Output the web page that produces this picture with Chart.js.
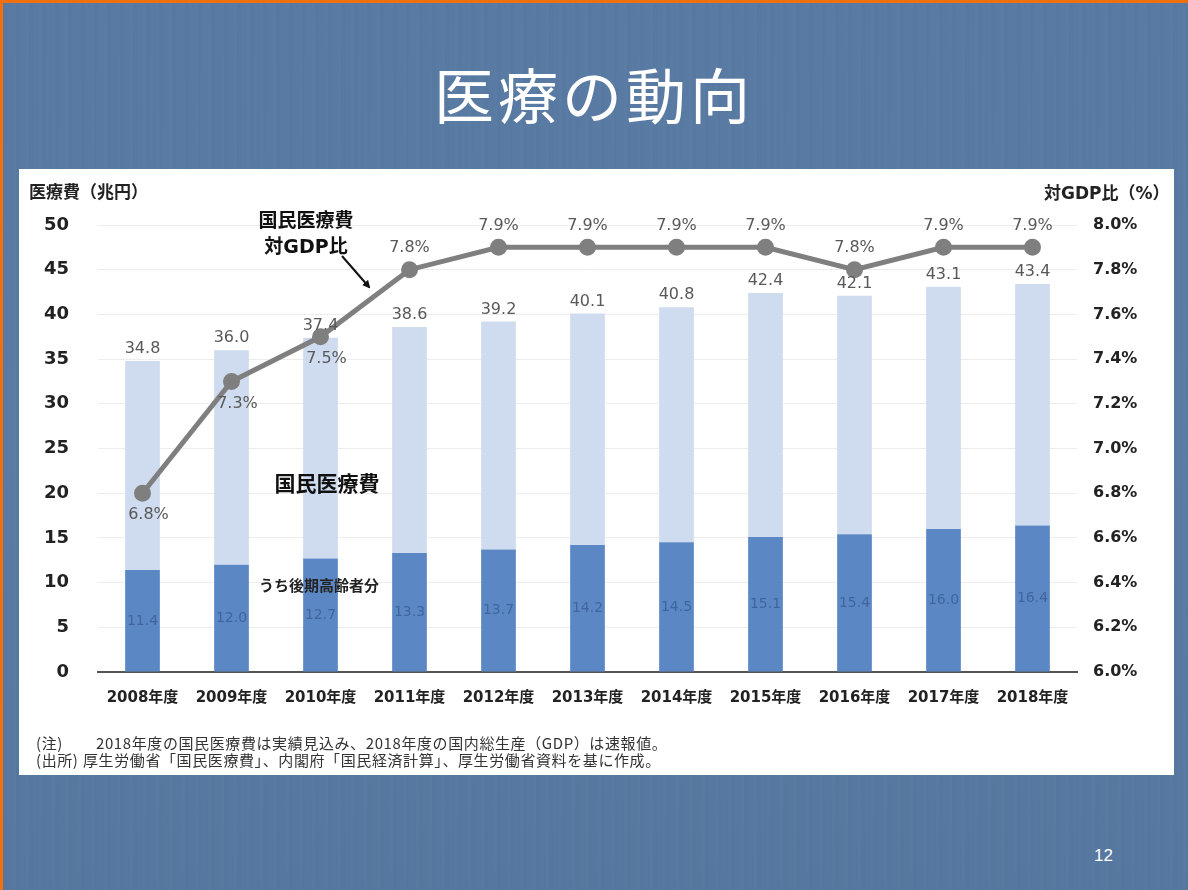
<!DOCTYPE html>
<html lang="ja">
<head>
<meta charset="utf-8">
<title>医療の動向</title>
<script src="https://cdn.jsdelivr.net/npm/chart.js@4.4.1/dist/chart.umd.min.js"></script>
<style>
    html, body { margin: 0; padding: 0; }
    body {
        width: 1188px; height: 890px; position: relative; overflow: hidden;
        font-family: 'DejaVu Sans', 'Noto Sans CJK JP', sans-serif;
        background:
            repeating-linear-gradient(90deg, rgba(255,255,255,0.01) 0 3px, rgba(0,0,0,0.01) 3px 7px, rgba(255,255,255,0) 7px 13px),
            linear-gradient(180deg, #587aa3 0%, #5a7ba3 50%, #56779f 100%);
    }
    #frame {
        position: absolute; left: 0; top: 0; width: 1188px; height: 890px; box-sizing: border-box;
        border-top: 3px solid #f07010; border-left: 3px solid #f07010; pointer-events: none;
    }
    #title {
        position: absolute; left: 0; width: 1188px; top: 57px; text-align: center;
        font-family: 'Noto Sans CJK JP', sans-serif; font-size: 60px; color: #fff;
        line-height: 72px; letter-spacing: 4px;
    }
    #panel {
        position: absolute; left: 19px; top: 169px; width: 1155px; height: 606px; background: #fff;
    }
    #panel canvas { position: absolute; left: 0; top: 0; }
    .note { position: absolute; font-weight: bold; color: #111; white-space: nowrap;
        font-family: 'DejaVu Sans', 'Noto Sans CJK JP', sans-serif; transform: translate(-50%, -50%); }
    .axis-title { position: absolute; font-weight: bold; color: #222; font-size: 17px; white-space: nowrap;
        font-family: 'DejaVu Sans', 'Noto Sans CJK JP', sans-serif; }
    #foot { position: absolute; left: 17px; top: 565px; font-size: 15px; line-height: 17px; color: #333;
        font-family: 'Noto Sans CJK JP', sans-serif; white-space: nowrap; letter-spacing: 0.6px; }
    #foot span.k { display: inline-block; width: 60px; }
    #foot span.k2 { display: inline-block; width: 47px; }
    #page { position: absolute; left: 1094px; top: 846px; color: #fff; font-size: 17px;
        font-family: 'Liberation Sans', sans-serif; }
    svg { position: absolute; left: 0; top: 0; pointer-events: none; }
</style>
</head>
<body>
<div id="title">医療の動向</div>

<div id="panel">
    <canvas id="medChart"></canvas>
    <div class="axis-title" style="left:10px; top:9px;">医療費（兆円）</div>
    <div class="axis-title" style="left:1025px; top:10px;">対GDP比（%）</div>
    <div class="note" style="left:287px; top:64px; font-size:19px; line-height:26px; text-align:center;">国民医療費<br>対GDP比</div>
    <div class="note" style="left:308px; top:313px; font-size:21px;">国民医療費</div>
    <div class="note" style="left:300px; top:415px; font-size:15px; color:#222;">うち後期高齢者分</div>
    <svg width="1155" height="606">
        <defs>
            <marker id="head" markerWidth="8" markerHeight="8" refX="6" refY="4" orient="auto" markerUnits="userSpaceOnUse">
                <path d="M0,0 L8,4 L0,8 z" fill="#111"/>
            </marker>
        </defs>
        <line x1="323" y1="87" x2="350" y2="118" stroke="#111" stroke-width="2" marker-end="url(#head)"/>
    </svg>
    <div id="foot">
        <div><span class="k">(注)</span>2018年度の国民医療費は実績見込み、2018年度の国内総生産（GDP）は速報値。</div>
        <div><span class="k2">(出所)</span>厚生労働省「国民医療費」、内閣府「国民経済計算」、厚生労働省資料を基に作成。</div>
    </div>
</div>

<div id="page">12</div>
<div id="frame"></div>

<script>
// 年度ごとの国民医療費（兆円）、うち後期高齢者分、対GDP比（%）
const years = ['2008年度', '2009年度', '2010年度', '2011年度', '2012年度', '2013年度',
               '2014年度', '2015年度', '2016年度', '2017年度', '2018年度'];
const totalCost = [34.8, 36.0, 37.4, 38.6, 39.2, 40.1, 40.8, 42.4, 42.1, 43.1, 43.4];
const elderlyCost = [11.4, 12.0, 12.7, 13.3, 13.7, 14.2, 14.5, 15.1, 15.4, 16.0, 16.4];
const gdpRatio = [6.8, 7.3, 7.5, 7.8, 7.9, 7.9, 7.9, 7.9, 7.8, 7.9, 7.9];
// 対GDP比ラベルの位置（線の上か下か）
const ratioLabelSide = ['below', 'below', 'below', 'above', 'above', 'above',
                        'above', 'above', 'above', 'above', 'above'];

const LIGHT = '#cfdbee';
const DARK = '#5b88c5';
const LINE = '#7f7f7f';

// 値ラベルを描くプラグイン
const valueLabels = {
    id: 'valueLabels',
    afterDatasetsDraw(chart) {
        const ctx = chart.ctx;
        const y = chart.scales.y;
        const y2 = chart.scales.y2;
        const barMeta = chart.getDatasetMeta(1);
        const lineMeta = chart.getDatasetMeta(0);
        ctx.save();
        ctx.textAlign = 'center';
        ctx.textBaseline = 'middle';

        // 総額（棒の上）
        ctx.font = '16px "DejaVu Sans", sans-serif';
        ctx.fillStyle = '#595959';
        totalCost.forEach((v, i) => {
            const x = barMeta.data[i].x;
            ctx.fillText(v.toFixed(1), x, y.getPixelForValue(v) - 12);
        });

        // 後期高齢者分（濃い部分の中央）
        ctx.font = '14px "DejaVu Sans", sans-serif';
        ctx.fillStyle = '#3f659e';
        elderlyCost.forEach((v, i) => {
            const x = barMeta.data[i].x;
            const yc = (y.getPixelForValue(v) + y.getPixelForValue(0)) / 2;
            ctx.fillText(v.toFixed(1), x, yc);
        });

        // 対GDP比
        ctx.font = '16px "DejaVu Sans", sans-serif';
        ctx.fillStyle = '#595959';
        gdpRatio.forEach((v, i) => {
            const pt = lineMeta.data[i];
            const py = y2.getPixelForValue(v);
            if (ratioLabelSide[i] === 'below') {
                ctx.fillText(v.toFixed(1) + '%', pt.x + 6, py + 22);
            } else {
                ctx.fillText(v.toFixed(1) + '%', pt.x, py - 22);
            }
        });
        ctx.restore();
    }
};

const canvas = document.getElementById('medChart');
canvas.width = 1155;
canvas.height = 606;

new Chart(canvas, {
    type: 'bar',
    data: {
        labels: years,
        datasets: [
            {
                type: 'line',
                label: '国民医療費 対GDP比',
                data: gdpRatio,
                yAxisID: 'y2',
                borderColor: LINE,
                backgroundColor: LINE,
                borderWidth: 5,
                pointRadius: 6,
                pointBackgroundColor: LINE,
                pointBorderColor: LINE,
                tension: 0,
                order: 0
            },
            {
                label: '国民医療費',
                data: totalCost.map((t, i) => [elderlyCost[i], t]),
                backgroundColor: LIGHT,
                yAxisID: 'y',
                grouped: false,
                barPercentage: 0.39,
                categoryPercentage: 1,
                order: 2
            },
            {
                label: 'うち後期高齢者分',
                data: elderlyCost,
                backgroundColor: DARK,
                yAxisID: 'y',
                grouped: false,
                barPercentage: 0.39,
                categoryPercentage: 1,
                order: 1
            }
        ]
    },
    options: {
        responsive: false,
        animation: false,
        layout: { padding: { top: 56, left: 0, right: 0, bottom: 0 } },
        plugins: {
            legend: { display: false },
            tooltip: { enabled: false }
        },
        scales: {
            x: {
                grid: { display: false, drawTicks: false },
                border: { display: true, color: '#555', width: 2 },
                ticks: {
                    color: '#222',
                    padding: 17,
                    font: { family: '"DejaVu Sans", "Noto Sans CJK JP", sans-serif', size: 15, weight: 'bold' }
                },
                afterFit: s => { s.height = 103; }
            },
            y: {
                position: 'left',
                min: 0,
                max: 50,
                ticks: {
                    stepSize: 5,
                    color: '#222',
                    padding: 29,
                    font: { family: '"DejaVu Sans", sans-serif', size: 18, weight: 'bold' }
                },
                grid: { color: '#ededed', lineWidth: 1, drawTicks: false },
                border: { display: false },
                afterFit: s => { s.width = 79; }
            },
            y2: {
                position: 'right',
                min: 6.0,
                max: 8.0,
                ticks: {
                    stepSize: 0.2,
                    color: '#222',
                    padding: 16,
                    callback: v => v.toFixed(1) + '%',
                    font: { family: '"DejaVu Sans", sans-serif', size: 16, weight: 'bold' }
                },
                grid: { display: false, drawTicks: false },
                border: { display: false },
                afterFit: s => { s.width = 97; }
            }
        }
    },
    plugins: [valueLabels]
});
</script>
</body>
</html>
